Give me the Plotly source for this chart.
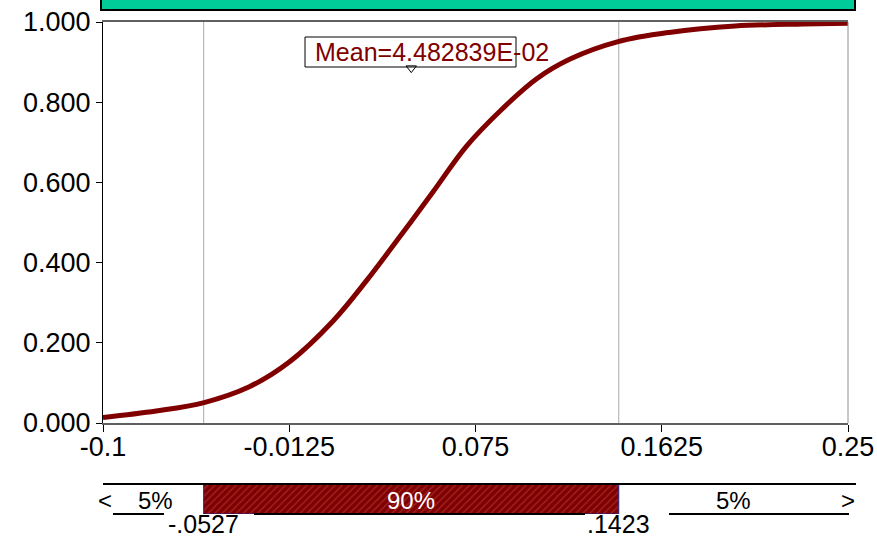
import plotly.graph_objects as go

# ---- data ----
x_vals = [-0.1, -0.075, -0.0525, -0.031, -0.0125, 0.0082, 0.0238, 0.0395, 0.055,
          0.0707, 0.0879, 0.1036, 0.1192, 0.142, 0.166, 0.197, 0.229, 0.25]
cdf_vals = [0.014, 0.030, 0.051, 0.091, 0.152, 0.255, 0.355, 0.465, 0.576,
            0.690, 0.785, 0.858, 0.907, 0.951, 0.974, 0.990, 0.995, 0.997]
x_tickvals = [-0.1, -0.0125, 0.075, 0.1625, 0.25]
x_ticktext = ["-0.1", "-0.0125", "0.075", "0.1625", "0.25"]
y_tickvals = [0, 0.2, 0.4, 0.6, 0.8, 1.0]
y_ticktext = ["0.000", "0.200", "0.400", "0.600", "0.800", "1.000"]
p05 = -0.0527
p95 = 0.1423
mean_val = 0.04482839
mean_label = "Mean=4.482839E-02"
left_pct, mid_pct, right_pct = "5%", "90%", "5%"
left_lbl, right_lbl = "-.0527", ".1423"

XMIN, XMAX = -0.1, 0.25
W, H = 877, 537
L, R, T, B = 103, 29, 22, 23
PW = W - L - R
PH = H - T - B
FONT = "Liberation Sans, Arial, sans-serif"
DARKRED = "#800000"


def px(p):
    return (p - L) / PW


def py(q):
    return (H - B - q) / PH


def xp(v):
    return (v - XMIN) / (XMAX - XMIN)


fig = go.Figure()

# vertical percentile lines
for v in (p05, p95):
    fig.add_trace(go.Scatter(x=[v, v], y=[0, 1], mode="lines",
                             line=dict(color="#a8a8a8", width=1),
                             hoverinfo="skip", showlegend=False))

# CDF curve
fig.add_trace(go.Scatter(x=x_vals, y=cdf_vals, mode="lines",
                         line=dict(color=DARKRED, width=5, shape="spline", smoothing=1.0),
                         showlegend=False))

# gray triangles at top
fig.add_trace(go.Scatter(x=[p05, p95], y=[1.012, 1.012], mode="markers",
                         marker=dict(symbol="triangle-down", size=12, color="#808080",
                                     line=dict(color="#404040", width=1)),
                         cliponaxis=False, showlegend=False))

# mean marker
fig.add_trace(go.Scatter(x=[mean_val], y=[0.885], mode="markers",
                         marker=dict(symbol="triangle-down", size=9, color="white",
                                     line=dict(color="black", width=1)),
                         cliponaxis=False, showlegend=False))

# hatched 90% band on bottom axes
fig.add_trace(go.Scatter(x=[p05, p95, p95, p05, p05], y=[0, 0, 1, 1, 0],
                         xaxis="x2", yaxis="y2", mode="lines", fill="toself",
                         fillcolor=DARKRED,
                         fillpattern=dict(shape="/", bgcolor=DARKRED, fgcolor="#c05050",
                                          size=5, solidity=0.25),
                         line=dict(color="#202080", width=1),
                         hoverinfo="skip", showlegend=False))

main_bottom = py(423)

fig.update_layout(
    width=W, height=H,
    margin=dict(l=L, r=R, t=T, b=B),
    paper_bgcolor="white", plot_bgcolor="white",
    font=dict(family=FONT, size=27, color="black"),
    xaxis=dict(range=[XMIN, XMAX], tickvals=x_tickvals, ticktext=x_ticktext,
               ticks="outside", ticklen=7, tickcolor="black", showgrid=False,
               zeroline=False, showline=True, linecolor="#606060", linewidth=2,
               mirror=True, anchor="y", tickfont=dict(size=27), automargin=False,
               ticklabelstandoff=-8),
    yaxis=dict(range=[0, 1], domain=[main_bottom, 1], tickvals=y_tickvals,
               ticktext=y_ticktext, ticks="outside", ticklen=6, tickcolor="black",
               showgrid=False, zeroline=False, showline=True, linecolor="black",
               linewidth=1, tickfont=dict(size=27), automargin=False),
    xaxis2=dict(range=[XMIN, XMAX], anchor="y2", visible=False),
    yaxis2=dict(range=[0, 1], domain=[0, py(484)], visible=False),
)

shapes = []
# right border gray
shapes.append(dict(type="line", xref="paper", yref="paper", x0=1, x1=1,
                   y0=main_bottom, y1=1, line=dict(color="#909090", width=1)))
# top green bar
shapes.append(dict(type="rect", xref="paper", yref="paper",
                   x0=px(101), x1=px(855), y0=py(10), y1=py(-3),
                   fillcolor="#00CC99", line=dict(color="black", width=2)))
# mean label box
shapes.append(dict(type="rect", xref="paper", yref="paper",
                   x0=px(305), x1=px(516), y0=py(67), y1=py(37),
                   fillcolor="rgba(0,0,0,0)", line=dict(color="black", width=1)))
# bottom band lines
shapes.append(dict(type="line", xref="paper", yref="paper",
                   x0=px(103), x1=px(856), y0=py(484), y1=py(484),
                   line=dict(color="black", width=2)))
for a, b in [(113, 164), (254, 585), (669, 849)]:
    shapes.append(dict(type="line", xref="paper", yref="paper",
                       x0=px(a), x1=px(b), y0=py(514), y1=py(514),
                       line=dict(color="black", width=2)))
fig.update_layout(shapes=shapes)

ann = []
ann.append(dict(text=mean_label, xref="paper", yref="paper", x=px(313), y=py(52),
                xanchor="left", yanchor="middle", showarrow=False,
                font=dict(size=25, color=DARKRED)))
for t, xpix, col in [("<", 105, "black"), (left_pct, 155, "black"),
                     (mid_pct, 411, "white"), (right_pct, 733, "black"),
                     (">", 848, "black")]:
    ann.append(dict(text=t, xref="paper", yref="paper", x=px(xpix), y=py(500),
                    xanchor="center", yanchor="middle", showarrow=False,
                    font=dict(size=24, color=col)))
for t, v in [(left_lbl, p05), (right_lbl, p95)]:
    ann.append(dict(text=t, xref="paper", yref="paper", x=xp(v), y=py(540),
                    xanchor="center", yanchor="bottom", showarrow=False,
                    font=dict(size=25, color="black")))
fig.update_layout(annotations=ann)

fig.write_html("out.html", config={"displayModeBar": False})

# remove the browser's default body margin so the figure sits at the page origin
with open("out.html", "r", encoding="utf-8") as f:
    html = f.read()
html = html.replace("<head>", "<head><style>html,body{margin:0;padding:0;overflow:hidden;}</style>", 1)
with open("out.html", "w", encoding="utf-8") as f:
    f.write(html)
